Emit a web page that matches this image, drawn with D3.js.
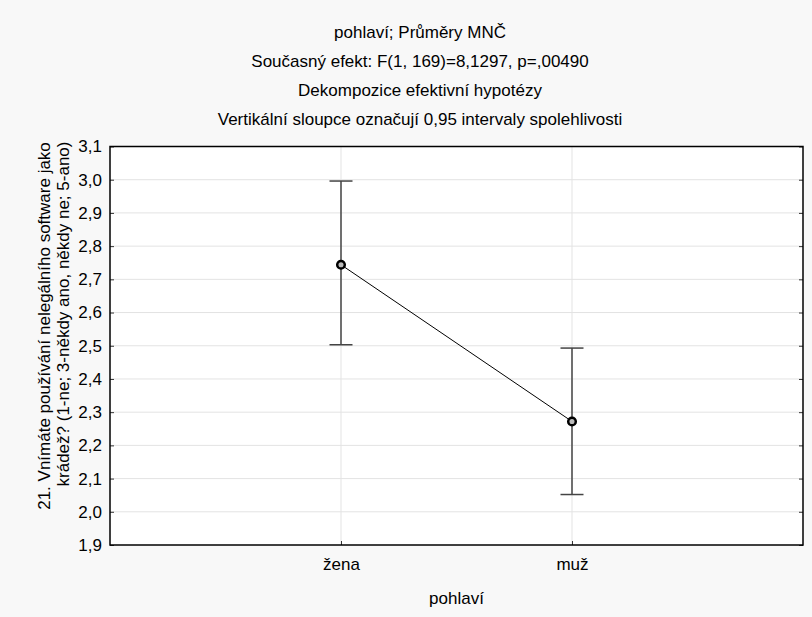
<!DOCTYPE html>
<html>
<head>
<meta charset="utf-8">
<script src="https://cdn.jsdelivr.net/npm/d3@7"></script>
<style>
  body { margin: 0; background: #f8f8f8; }
  svg { display: block; font-family: "Liberation Sans", Arial, sans-serif; }
</style>
</head>
<body>
<svg id="chart" width="812" height="617"></svg>
<script>
const categories = ["žena", "muž"];
const means = [2.744, 2.272];
const ciLow = [2.503, 2.052];
const ciHigh = [2.996, 2.493];
const yTicks = [1.9, 2.0, 2.1, 2.2, 2.3, 2.4, 2.5, 2.6, 2.7, 2.8, 2.9, 3.0, 3.1];
const titleLines = [
    "pohlaví; Průměry MNČ",
    "Současný efekt: F(1, 169)=8,1297, p=,00490",
    "Dekompozice efektivní hypotézy",
    "Vertikální sloupce označují 0,95 intervaly spolehlivosti"
];
const yTitleLines = [
    "21. Vnímáte používání nelegálního software jako",
    "krádež? (1-ne; 3-někdy ano, někdy ne; 5-ano)"
];
const xTitle = "pohlaví";

const width = 812, height = 617;
const margin = { top: 146.5, right: 9, bottom: 72, left: 110 };
const fontSize = 17;

const svg = d3.select("svg#chart");

svg.append("rect")
    .attr("width", width).attr("height", height)
    .attr("fill", "#f8f8f8");

// SCALES
const xScale = d3.scalePoint()
    .domain(categories)
    .range([margin.left, width - margin.right])
    .padding(1);

const yScale = d3.scaleLinear()
    .domain([1.9, 3.1])
    .range([height - margin.bottom, margin.top]);

const fmt = d => d3.format(".1f")(d).replace(".", ",");

// plot background
svg.append("rect")
    .attr("x", margin.left).attr("y", margin.top)
    .attr("width", width - margin.right - margin.left)
    .attr("height", height - margin.bottom - margin.top)
    .attr("fill", "#fff");

// GRID
svg.append("g")
    .selectAll("line")
    .data(yTicks.slice(1, -1))
    .join("line")
    .attr("x1", margin.left).attr("x2", width - margin.right)
    .attr("y1", d => yScale(d)).attr("y2", d => yScale(d))
    .attr("stroke", "#e3e3e3").attr("stroke-width", 1);

svg.append("g")
    .selectAll("line")
    .data(categories)
    .join("line")
    .attr("x1", d => xScale(d)).attr("x2", d => xScale(d))
    .attr("y1", margin.top).attr("y2", height - margin.bottom)
    .attr("stroke", "#e3e3e3").attr("stroke-width", 1);

// AXIS
const styleText = g => g.selectAll(".tick text")
    .attr("font-size", fontSize).attr("fill", "#000")
    .attr("font-family", "Liberation Sans, Arial, sans-serif");

const yAxis = g => g.attr("transform", `translate(${margin.left},0)`)
    .call(d3.axisLeft(yScale).tickValues(yTicks).tickFormat(fmt).tickSizeInner(-4).tickSizeOuter(0).tickPadding(8))
    .call(g => g.select(".domain").remove())
    .call(g => g.selectAll(".tick line").attr("stroke", "#333"))
    .call(styleText);

const yAxisRight = g => g.attr("transform", `translate(${width - margin.right},0)`)
    .call(d3.axisRight(yScale).tickValues(yTicks).tickFormat("").tickSizeInner(-4).tickSizeOuter(0))
    .call(g => g.select(".domain").remove())
    .call(g => g.selectAll(".tick line").attr("stroke", "#333"));

const xAxis = g => g.attr("transform", `translate(0,${height - margin.bottom})`)
    .call(d3.axisBottom(xScale).tickSizeInner(-4).tickSizeOuter(0).tickPadding(13))
    .call(g => g.select(".domain").remove())
    .call(g => g.selectAll(".tick line").attr("stroke", "#333"))
    .call(styleText);

svg.append("g").call(yAxis);
svg.append("g").call(yAxisRight);
svg.append("g").call(xAxis);

// frame
svg.append("rect")
    .attr("x", margin.left).attr("y", margin.top)
    .attr("width", width - margin.right - margin.left)
    .attr("height", height - margin.bottom - margin.top)
    .attr("fill", "none").attr("stroke", "#000").attr("stroke-width", 1.5);

// ERROR BARS
const rows = categories.map((c, i) => ({ name: c, mean: means[i], lo: ciLow[i], hi: ciHigh[i] }));
const bars = svg.append("g").attr("stroke", "#444").attr("stroke-width", 1.5);
bars.selectAll("line.v").data(rows).join("line").attr("class", "v")
    .attr("x1", d => xScale(d.name)).attr("x2", d => xScale(d.name))
    .attr("y1", d => yScale(d.lo)).attr("y2", d => yScale(d.hi));
bars.selectAll("line.hi").data(rows).join("line").attr("class", "hi")
    .attr("x1", d => xScale(d.name) - 11.5).attr("x2", d => xScale(d.name) + 11.5)
    .attr("y1", d => yScale(d.hi)).attr("y2", d => yScale(d.hi));
bars.selectAll("line.lo").data(rows).join("line").attr("class", "lo")
    .attr("x1", d => xScale(d.name) - 11.5).attr("x2", d => xScale(d.name) + 11.5)
    .attr("y1", d => yScale(d.lo)).attr("y2", d => yScale(d.lo));

// LINE
const line = d3.line()
    .x(d => xScale(d.name))
    .y(d => yScale(d.mean));

svg.append("path")
    .datum(rows)
    .attr("d", line)
    .attr("fill", "none")
    .attr("stroke", "#000")
    .attr("stroke-width", 1);

svg.append("g")
    .selectAll("circle")
    .data(rows)
    .join("circle")
    .attr("cx", d => xScale(d.name))
    .attr("cy", d => yScale(d.mean))
    .attr("r", 3.8)
    .attr("fill", "#bbb")
    .attr("stroke", "#000")
    .attr("stroke-width", 2.5);

// TITLES
svg.append("g")
    .selectAll("text")
    .data(titleLines)
    .join("text")
    .attr("x", 420)
    .attr("y", (d, i) => 38 + i * 29)
    .attr("text-anchor", "middle")
    .attr("font-size", fontSize)
    .text(d => d);

svg.append("g")
    .selectAll("text")
    .data(yTitleLines)
    .join("text")
    .attr("transform", (d, i) => `translate(${50 + i * 19},${[326, 314][i]}) rotate(-90)`)
    .attr("text-anchor", "middle")
    .attr("font-size", fontSize)
    .text(d => d);

svg.append("text")
    .attr("x", xScale.range()[0] + (xScale.range()[1] - xScale.range()[0]) / 2)
    .attr("y", 604)
    .attr("text-anchor", "middle")
    .attr("font-size", fontSize)
    .text(xTitle);
</script>
</body>
</html>
